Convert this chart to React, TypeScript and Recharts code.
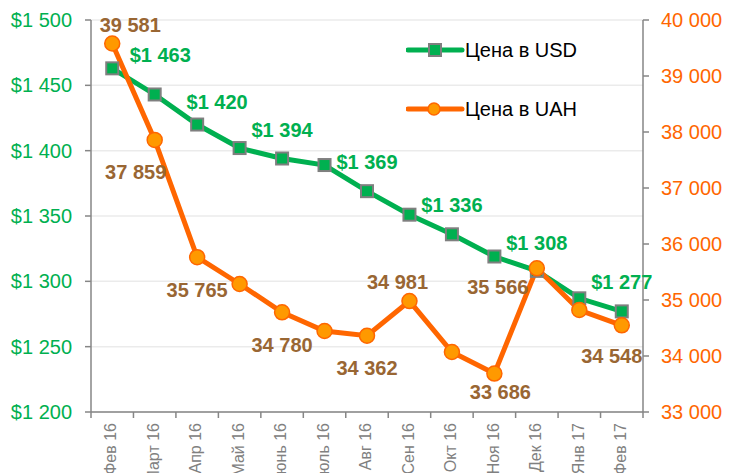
import React from 'react';
import { LineChart, Line, XAxis, YAxis, CartesianGrid, Legend, LabelList } from 'recharts';

const months = ['Фев 16', 'Март 16', 'Апр 16', 'Май 16', 'Июнь 16', 'Июль 16', 'Авг 16', 'Сен 16', 'Окт 16', 'Ноя 16', 'Дек 16', 'Янв 17', 'Фев 17'];
const usdPrice = [1463, 1443, 1420, 1402, 1394, 1389, 1369, 1351, 1336, 1319, 1308, 1287, 1277];
const uahPrice = [39581, 37859, 35765, 35286, 34780, 34446, 34362, 34981, 34071, 33686, 35566, 34821, 34548];
const usdTicks = [1200, 1250, 1300, 1350, 1400, 1450, 1500];
const uahTicks = [33000, 34000, 35000, 36000, 37000, 38000, 39000, 40000];
const usdName = 'Цена в USD';
const uahName = 'Цена в UAH';

// label placement (style): index -> [dx, dy]
const usdLabelOffsets: Record<number, [number, number]> = {
  0: [48, -13], 2: [20, -23], 4: [0, -29], 6: [0, -29], 8: [0, -29], 10: [0, -28], 12: [0, -29],
};
const uahLabelOffsets: Record<number, [number, number]> = {
  0: [18, -18], 1: [-19, 32], 2: [0, 33], 4: [0, 33], 6: [0, 32], 7: [-12, -19], 9: [6, 18], 10: [-39, 19], 12: [-10, 31],
};

const W = 729;
const H = 473;
const LEFT_W = 91;
const RIGHT_W = 86;
const TOP = 20;
const X_H = 61;
const BAND = (W - LEFT_W - RIGHT_W) / months.length;

const GREEN = '#00B050';
const ORANGE = '#FF6600';
const ORANGE_FILL = '#FF9900';
const BROWN = '#996633';
const AXIS = '#868686';
const FONT = '"Liberation Sans", Arial, sans-serif';

const data = months.map((m, i) => ({ month: m, usd: usdPrice[i], uah: uahPrice[i] }));

const fmt = (v: number) => String(v).replace(/\B(?=(\d{3})+(?!\d))/g, ' ');

const XTick = (props: any) => {
  const { x, y, payload, index } = props;
  const last = index === months.length - 1;
  return (
    <g>
      <line x1={x - BAND / 2} x2={x - BAND / 2} y1={y - 8} y2={y - 2} stroke={AXIS} strokeWidth={1.5} />
      {last && <line x1={x + BAND / 2} x2={x + BAND / 2} y1={y - 8} y2={y - 2} stroke={AXIS} strokeWidth={1.5} />}
      <text
        x={x}
        y={y}
        transform={`rotate(-90 ${x} ${y})`}
        textAnchor="end"
        dominantBaseline="middle"
        fill="#808080"
        fontSize={16}
        fontFamily={FONT}
        dx={-3}
      >
        {payload.value}
      </text>
    </g>
  );
};

const SquareDot = (props: any) => {
  const { cx, cy } = props;
  if (cx == null || cy == null) return null;
  const s = 12;
  return <rect x={cx - s / 2} y={cy - s / 2} width={s} height={s} fill={GREEN} stroke="#7F7F7F" strokeWidth={2} />;
};

const CircleDot = (props: any) => {
  const { cx, cy } = props;
  if (cx == null || cy == null) return null;
  return <circle cx={cx} cy={cy} r={7.5} fill={ORANGE_FILL} stroke={ORANGE} strokeWidth={1.5} />;
};

const makeLabel = (offsets: Record<number, [number, number]>, color: string, prefix: string) => (props: any) => {
  const { x, y, index, value } = props;
  const off = offsets[index];
  if (!off) return null;
  return (
    <text
      x={x + off[0]}
      y={y + off[1]}
      textAnchor="middle"
      dominantBaseline="central"
      fill={color}
      fontSize={20}
      fontWeight="bold"
      fontFamily={FONT}
    >
      {prefix + fmt(value)}
    </text>
  );
};

const LegendContent = () => (
  <div style={{ fontFamily: FONT, fontSize: 20, color: '#000' }}>
    <div style={{ display: 'flex', alignItems: 'center', height: 24 }}>
      <svg width={59} height={20} style={{ display: 'block' }}>
        <line x1={2} x2={56} y1={10} y2={10} stroke={GREEN} strokeWidth={5} strokeLinecap="round" />
        <rect x={23} y={4} width={12} height={12} fill={GREEN} stroke="#7F7F7F" strokeWidth={2} />
      </svg>
      <span>{usdName}</span>
    </div>
    <div style={{ display: 'flex', alignItems: 'center', height: 24, marginTop: 35 }}>
      <svg width={59} height={20} style={{ display: 'block' }}>
        <line x1={2} x2={56} y1={10} y2={10} stroke={ORANGE} strokeWidth={5} strokeLinecap="round" />
        <circle cx={28} cy={10} r={6} fill={ORANGE_FILL} stroke={ORANGE} strokeWidth={1.5} />
      </svg>
      <span>{uahName}</span>
    </div>
  </div>
);

export default function App() {
  return (
    <div style={{ position: 'absolute', left: 0, top: 0, width: W, height: H, background: '#fff', fontFamily: FONT }}>
      <LineChart width={W} height={H} data={data} margin={{ top: TOP, right: 0, bottom: 0, left: 0 }}>
        <CartesianGrid yAxisId="left" vertical={false} stroke="#EBEBEB" strokeWidth={1.5} />
        <XAxis
          dataKey="month"
          scale="band"
          height={X_H}
          interval={0}
          tickLine={false}
          axisLine={{ stroke: AXIS, strokeWidth: 1.5 }}
          tick={<XTick />}
        />
        <YAxis
          yAxisId="left"
          width={LEFT_W}
          domain={[1200, 1500]}
          ticks={usdTicks}
          tickFormatter={(v: number) => '$' + fmt(v)}
          axisLine={{ stroke: AXIS, strokeWidth: 1.5 }}
          tickLine={{ stroke: AXIS, strokeWidth: 1.5 }}
          tickSize={6}
          tickMargin={13}
          tick={{ fill: GREEN, fontSize: 20, fontFamily: FONT }}
        />
        <YAxis
          yAxisId="right"
          orientation="right"
          width={RIGHT_W}
          domain={[33000, 40000]}
          ticks={uahTicks}
          tickFormatter={(v: number) => fmt(v)}
          axisLine={{ stroke: AXIS, strokeWidth: 1.5 }}
          tickLine={{ stroke: AXIS, strokeWidth: 1.5 }}
          tickSize={6}
          tickMargin={12}
          tick={{ fill: ORANGE, fontSize: 20, fontFamily: FONT }}
        />
        <Legend
          layout="horizontal"
          verticalAlign="middle"
          align="center"
          content={<LegendContent />}
          wrapperStyle={{ left: 406, top: 38, width: 220, height: 90 }}
        />
        <Line
          yAxisId="left"
          name={usdName}
          dataKey="usd"
          stroke={GREEN}
          strokeWidth={5}
          dot={<SquareDot />}
          activeDot={false}
          isAnimationActive={false}
        >
          <LabelList dataKey="usd" content={makeLabel(usdLabelOffsets, GREEN, '$')} />
        </Line>
        <Line
          yAxisId="right"
          name={uahName}
          dataKey="uah"
          stroke={ORANGE}
          strokeWidth={5}
          dot={<CircleDot />}
          activeDot={false}
          isAnimationActive={false}
        >
          <LabelList dataKey="uah" content={makeLabel(uahLabelOffsets, BROWN, '')} />
        </Line>
      </LineChart>
    </div>
  );
}
